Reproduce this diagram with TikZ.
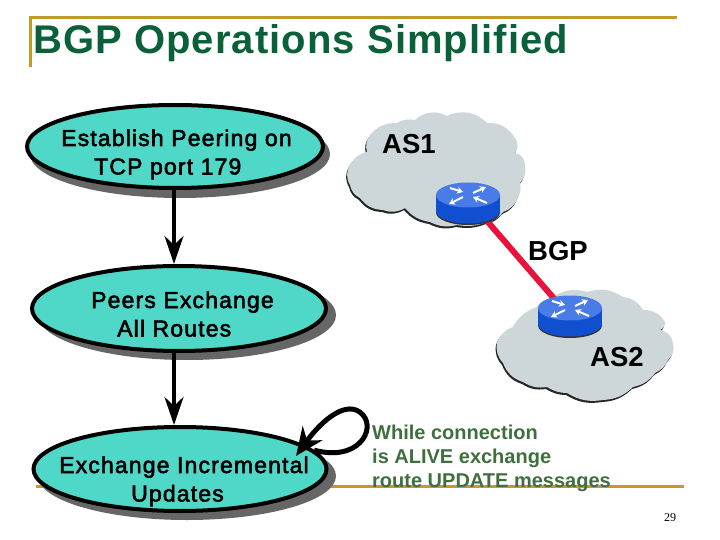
\documentclass[tikz,border=0pt]{standalone}
\usepackage{fontspec}
\setmainfont{Liberation Sans}
\newfontfamily\pagenumfont{Liberation Serif}
\newfontfamily\labelfont[FakeBold=2.4,LetterSpace=5]{Liberation Sans}
\newfontfamily\titlefont[LetterSpace=2.7]{Liberation Sans Bold}
\usetikzlibrary{shapes.geometric,arrows.meta}
\definecolor{titlegreen}{HTML}{0A6039}
\definecolor{msggreen}{HTML}{3F6F3F}
\definecolor{rulegold}{HTML}{C49A2A}
\definecolor{teal1}{HTML}{4FD8C8}
\definecolor{shadowgray}{HTML}{666666}
\definecolor{cloudgray}{HTML}{CDD6D8}
\definecolor{rtop}{HTML}{4A7CE8}
\definecolor{rside}{HTML}{0F4FD0}
\definecolor{linkred}{HTML}{E8123C}
\tikzset{
  x=1pt,y=-1pt,
  goldrule/.style={draw=rulegold,line width=3pt},
  stepell/.style={ellipse,draw=black,line width=4pt,fill=teal1,inner sep=0pt,minimum width=295pt,minimum height=84pt},
  shade5/.style={fill=shadowgray},
  lbl/.style={font=\labelfont\fontsize{23}{28.5}\selectfont,align=left,text=black,inner sep=0pt,anchor=base west},
  aslbl/.style={font=\fontsize{27.5}{30}\selectfont\bfseries,text=black,inner sep=0pt,anchor=base west},
  flow/.style={line width=4pt,-{Stealth[length=28pt,width=19pt,inset=9pt]}},
  cloudbody/.style={fill=cloudgray,draw=none},
  cloudedge/.style={fill=black!85},
  rarrow/.style={draw=white,line width=2pt,-{Stealth[length=6pt,width=7pt]}},
  pics/router/.style={code={
    \fill[black!80] (0,17.5) ellipse[x radius=32,y radius=12.5];
    \fill[rside] (-32,0) rectangle (32,16);
    \fill[rside] (0,16) ellipse[x radius=32,y radius=12.5];
    \fill[rtop] (0,0) ellipse[x radius=32,y radius=12.5];
    \draw[rarrow] (-18,-7) -- (-5,-3);
    \draw[rarrow] (5,-2) -- (18,-8);
    \draw[rarrow] (-5,2) -- (-19,9);
    \draw[rarrow] (19,8) -- (5,2);
  }}
}
\newcommand{\cloudone}{(350,165) to[bend left=25] (367,152) to[bend left=25] (370,135) to[bend left=25] (397,123) to[bend left=20] (415,120) to[bend left=35] (447,116) to[bend left=35] (487,123) to[bend left=30] (515,138) to[bend left=35] (515,153) to[bend left=40] (525,165) to[bend left=25] (520,183) to[bend left=20] (518,197) to[bend left=25] (503,212) to[bend left=20] (487,222) to[bend left=15] (457,225) to[bend left=20] (430,222) to[bend left=20] (405,208) to[bend left=25] (383,210) to[bend left=25] (360,198) to[bend left=25] (350,185) to[bend left=30] cycle}
\newcommand{\cloudtwo}{(497,343) to[bend left=25] (513,327) to[bend left=20] (537,307) to[bend left=20] (553,297) to[bend left=25] (587,292) to[bend left=25] (623,297) to[bend left=25] (643,310) to[bend left=30] (665,322) to[bend left=35] (660,330) to[bend left=35] (673,343) to[bend left=30] (668,360) to[bend left=20] (655,373) to[bend left=20] (633,387) to[bend left=20] (603,400) to[bend left=20] (567,393) to[bend left=15] (547,387) to[bend left=20] (523,382) to[bend left=25] (503,363) to[bend left=25] cycle}
\begin{document}
\begin{tikzpicture}
\useasboundingbox (0,0) rectangle (720,540);
\fill[white] (0,0) rectangle (720,540);
% rules
\draw[goldrule] (30,67) -- (30,18) -- (677,18);
\draw[goldrule] (36,486) -- (684,486);
\node[anchor=base west,inner sep=0pt,text=titlegreen,font=\titlefont\fontsize{40}{42}\selectfont] (title) at (33,54) {BGP Operations Simplified};
% clouds
\begin{scope}[shift={(-1,2)}]
\path[cloudedge] \cloudone;
\path[cloudedge] \cloudtwo;
\end{scope}
\path[cloudbody] \cloudone;
\path[cloudbody] \cloudtwo;
% link
\coordinate (r1) at (468,199);
\coordinate (r2) at (570,317);
\draw[linkred,line width=6pt] (r1) -- (r2);
\pic at (468,195) {router};
\pic at (570,308) {router};
\node[aslbl] (as1) at (382,154) {AS1};
\node[aslbl] (bgp) at (528,260) {BGP};
\node[aslbl] (as2) at (590,366) {AS2};
% shadows
\fill[shade5] (180,154) ellipse[x radius=150,y radius=44];
\fill[shade5] (187,315) ellipse[x radius=149,y radius=45];
\fill[shade5] (187,476) ellipse[x radius=149,y radius=44];
% steps
\node[stepell,minimum width=296pt,minimum height=83pt] (e1) at (175,146.5) {};
\node[stepell,minimum width=294pt,minimum height=85pt] (e2) at (179,308.5) {};
\node[stepell,minimum width=293pt,minimum height=84pt] (e3) at (180,469) {};
\node[lbl] (t1) at (61,174.5) {Establish Peering on\\\hspace*{33pt}TCP port 179};
\node[lbl] (t2) at (91,336.5) {Peers Exchange\\\hspace*{26pt}All Routes};
\node[lbl] (t3) at (59,501.5) {Exchange Incremental\\\hspace*{72pt}Updates};
% connectors
\draw[flow] ([xshift=-1pt]e1.south) -- ([xshift=-5pt]e2.north);
\draw[flow] ([xshift=-5pt]e2.south) -- ([xshift=-6pt]e3.north);
\coordinate (loopend) at (296,456);
\draw[line width=5pt,-{Stealth[length=28pt,width=24pt,inset=9pt]}] (e3.8) .. controls (358,462) and (376,430) .. (363,415) .. controls (348,398) and (322,420) .. (loopend);
% message
\node[anchor=north west,inner sep=0pt,align=left,text=msggreen,font=\fontsize{20}{24}\selectfont\bfseries] (msg) at (372,424.5) {While connection\\is ALIVE exchange\\route UPDATE messages};
\node[anchor=base,inner sep=0pt,font=\pagenumfont\fontsize{12}{14}\selectfont] (pg) at (670,521) {29};
\end{tikzpicture}
\end{document}
